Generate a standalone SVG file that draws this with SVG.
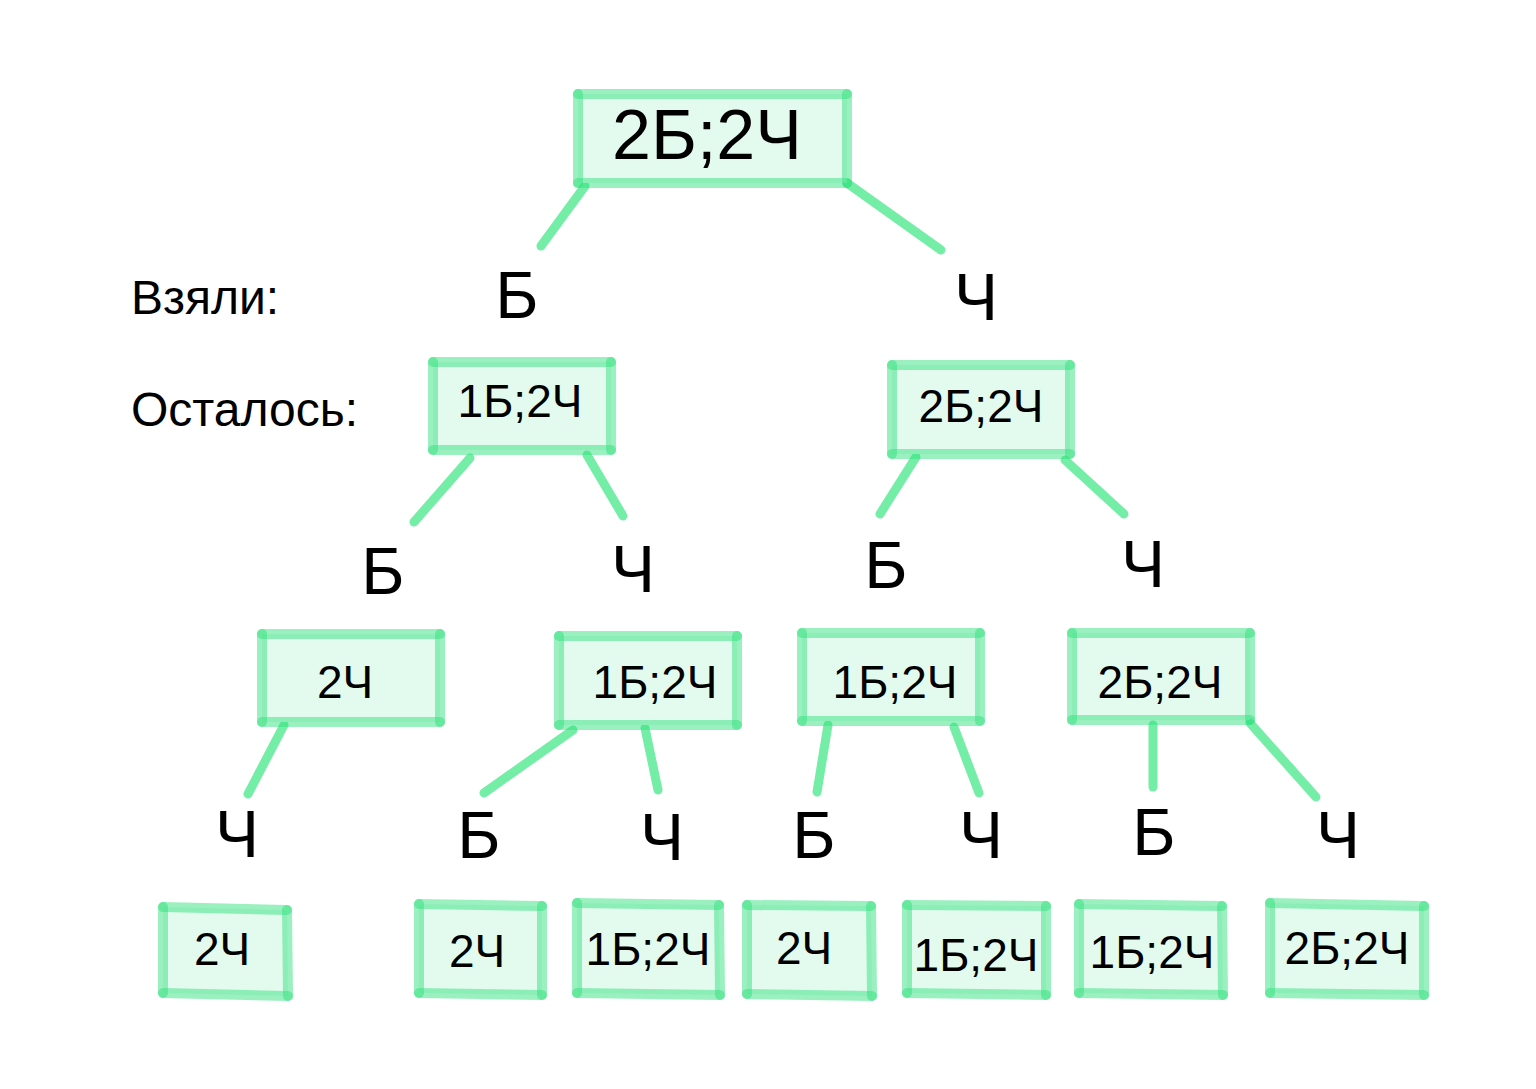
<svg xmlns="http://www.w3.org/2000/svg" width="1536" height="1089" viewBox="0 0 1536 1089">
<style>
.bg{fill:#ffffff}
.fill{fill:#e3fbee;stroke:none}
.edge{stroke:#2ee07c;stroke-opacity:0.48;stroke-width:10;stroke-linecap:round;fill:none}
.conn line{stroke:#74eda6;stroke-width:9;stroke-linecap:round}
text{font-family:"Liberation Sans",Arial,sans-serif;fill:#000000;text-anchor:middle}
.big{font-size:70px}
.mid{font-size:46px}
.lbl{font-size:66px}
.side{font-size:48px;text-anchor:start}
</style>
<rect class="bg" x="0" y="0" width="1536" height="1089"/>
<g id="connectors" class="conn">
<line x1="585" y1="186" x2="541" y2="246"/>
<line x1="847" y1="183" x2="941" y2="250"/>
<line x1="470" y1="458" x2="414" y2="522"/>
<line x1="587" y1="455" x2="623" y2="516"/>
<line x1="916" y1="457" x2="880" y2="514"/>
<line x1="1065" y1="460" x2="1124" y2="514"/>
<line x1="284" y1="725" x2="248" y2="794"/>
<line x1="573" y1="730" x2="484" y2="793"/>
<line x1="645" y1="728" x2="658" y2="790"/>
<line x1="828" y1="725" x2="817" y2="792"/>
<line x1="954" y1="727" x2="979" y2="793"/>
<line x1="1153" y1="725" x2="1153" y2="787"/>
<line x1="1250" y1="723" x2="1316" y2="797"/>
</g>
<g id="labels">
<text class="side" x="131" y="314">Взяли:</text>
<text class="side" x="131" y="426">Осталось:</text>
<text class="lbl" x="517" y="318">Б</text>
<text class="lbl" x="976" y="320">Ч</text>
<text class="lbl" x="383" y="594">Б</text>
<text class="lbl" x="633" y="592">Ч</text>
<text class="lbl" x="886" y="588">Б</text>
<text class="lbl" x="1143" y="587">Ч</text>
<text class="lbl" x="237" y="857">Ч</text>
<text class="lbl" x="479" y="858">Б</text>
<text class="lbl" x="662" y="860">Ч</text>
<text class="lbl" x="814" y="858">Б</text>
<text class="lbl" x="981" y="858">Ч</text>
<text class="lbl" x="1154" y="855">Б</text>
<text class="lbl" x="1338" y="858">Ч</text>
</g>
<g id="root">
<polygon class="fill" points="578,94 847,94 847,183 578,183"/>
<line class="edge" x1="578" y1="94" x2="847" y2="94"/>
<line class="edge" x1="847" y1="94" x2="847" y2="183"/>
<line class="edge" x1="847" y1="183" x2="578" y2="183"/>
<line class="edge" x1="578" y1="183" x2="578" y2="94"/>
<text class="big" x="707" y="159">2Б;2Ч</text>
</g>
<g id="n1">
<polygon class="fill" points="433,362 611,362 611,450 433,450"/>
<line class="edge" x1="433" y1="362" x2="611" y2="362"/>
<line class="edge" x1="611" y1="362" x2="611" y2="450"/>
<line class="edge" x1="611" y1="450" x2="433" y2="450"/>
<line class="edge" x1="433" y1="450" x2="433" y2="362"/>
<text class="mid" x="520" y="417">1Б;2Ч</text>
</g>
<g id="n2">
<polygon class="fill" points="892,365 1070,365 1070,454 892,454"/>
<line class="edge" x1="892" y1="365" x2="1070" y2="365"/>
<line class="edge" x1="1070" y1="365" x2="1070" y2="454"/>
<line class="edge" x1="1070" y1="454" x2="892" y2="454"/>
<line class="edge" x1="892" y1="454" x2="892" y2="365"/>
<text class="mid" x="981" y="422">2Б;2Ч</text>
</g>
<g id="n3">
<polygon class="fill" points="262,634 440,634 440,722 262,722"/>
<line class="edge" x1="262" y1="634" x2="440" y2="634"/>
<line class="edge" x1="440" y1="634" x2="440" y2="722"/>
<line class="edge" x1="440" y1="722" x2="262" y2="722"/>
<line class="edge" x1="262" y1="722" x2="262" y2="634"/>
<text class="mid" x="345" y="698">2Ч</text>
</g>
<g id="n4">
<polygon class="fill" points="559,636 737,636 737,725 559,725"/>
<line class="edge" x1="559" y1="636" x2="737" y2="636"/>
<line class="edge" x1="737" y1="636" x2="737" y2="725"/>
<line class="edge" x1="737" y1="725" x2="559" y2="725"/>
<line class="edge" x1="559" y1="725" x2="559" y2="636"/>
<text class="mid" x="655" y="698">1Б;2Ч</text>
</g>
<g id="n5">
<polygon class="fill" points="802,633 980,633 980,721 802,721"/>
<line class="edge" x1="802" y1="633" x2="980" y2="633"/>
<line class="edge" x1="980" y1="633" x2="980" y2="721"/>
<line class="edge" x1="980" y1="721" x2="802" y2="721"/>
<line class="edge" x1="802" y1="721" x2="802" y2="633"/>
<text class="mid" x="895" y="698">1Б;2Ч</text>
</g>
<g id="n6">
<polygon class="fill" points="1072,633 1250,633 1250,720 1072,720"/>
<line class="edge" x1="1072" y1="633" x2="1250" y2="633"/>
<line class="edge" x1="1250" y1="633" x2="1250" y2="720"/>
<line class="edge" x1="1250" y1="720" x2="1072" y2="720"/>
<line class="edge" x1="1072" y1="720" x2="1072" y2="633"/>
<text class="mid" x="1160" y="698">2Б;2Ч</text>
</g>
<g id="b1">
<polygon class="fill" points="163,907 287,910 288,996 163,993"/>
<line class="edge" x1="163" y1="907" x2="287" y2="910"/>
<line class="edge" x1="287" y1="910" x2="288" y2="996"/>
<line class="edge" x1="288" y1="996" x2="163" y2="993"/>
<line class="edge" x1="163" y1="993" x2="163" y2="907"/>
<text class="mid" x="222" y="965">2Ч</text>
</g>
<g id="b2">
<polygon class="fill" points="419,904 542,906 542,995 419,993"/>
<line class="edge" x1="419" y1="904" x2="542" y2="906"/>
<line class="edge" x1="542" y1="906" x2="542" y2="995"/>
<line class="edge" x1="542" y1="995" x2="419" y2="993"/>
<line class="edge" x1="419" y1="993" x2="419" y2="904"/>
<text class="mid" x="477" y="967">2Ч</text>
</g>
<g id="b3">
<polygon class="fill" points="577,903 719,905 720,995 577,993"/>
<line class="edge" x1="577" y1="903" x2="719" y2="905"/>
<line class="edge" x1="719" y1="905" x2="720" y2="995"/>
<line class="edge" x1="720" y1="995" x2="577" y2="993"/>
<line class="edge" x1="577" y1="993" x2="577" y2="903"/>
<text class="mid" x="648" y="965">1Б;2Ч</text>
</g>
<g id="b4">
<polygon class="fill" points="747,905 871,906 872,996 747,994"/>
<line class="edge" x1="747" y1="905" x2="871" y2="906"/>
<line class="edge" x1="871" y1="906" x2="872" y2="996"/>
<line class="edge" x1="872" y1="996" x2="747" y2="994"/>
<line class="edge" x1="747" y1="994" x2="747" y2="905"/>
<text class="mid" x="804" y="964">2Ч</text>
</g>
<g id="b5">
<polygon class="fill" points="907,905 1046,906 1046,995 907,993"/>
<line class="edge" x1="907" y1="905" x2="1046" y2="906"/>
<line class="edge" x1="1046" y1="906" x2="1046" y2="995"/>
<line class="edge" x1="1046" y1="995" x2="907" y2="993"/>
<line class="edge" x1="907" y1="993" x2="907" y2="905"/>
<text class="mid" x="976" y="971">1Б;2Ч</text>
</g>
<g id="b6">
<polygon class="fill" points="1079,904 1222,906 1223,995 1079,993"/>
<line class="edge" x1="1079" y1="904" x2="1222" y2="906"/>
<line class="edge" x1="1222" y1="906" x2="1223" y2="995"/>
<line class="edge" x1="1223" y1="995" x2="1079" y2="993"/>
<line class="edge" x1="1079" y1="993" x2="1079" y2="904"/>
<text class="mid" x="1152" y="968">1Б;2Ч</text>
</g>
<g id="b7">
<polygon class="fill" points="1270,903 1424,906 1424,995 1270,993"/>
<line class="edge" x1="1270" y1="903" x2="1424" y2="906"/>
<line class="edge" x1="1424" y1="906" x2="1424" y2="995"/>
<line class="edge" x1="1424" y1="995" x2="1270" y2="993"/>
<line class="edge" x1="1270" y1="993" x2="1270" y2="903"/>
<text class="mid" x="1347" y="964">2Б;2Ч</text>
</g>
</svg>
